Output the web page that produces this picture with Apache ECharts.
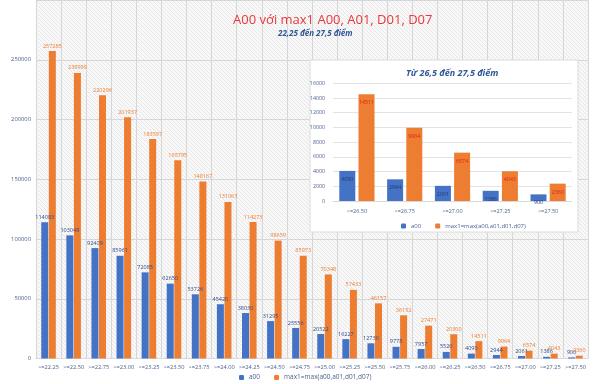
<!DOCTYPE html>
<html><head><meta charset="utf-8">
<script src="https://cdn.jsdelivr.net/npm/echarts@6/dist/echarts.min.js"></script>
<style>html,body{margin:0;padding:0;background:#fff}#c{width:600px;height:384px}</style>
</head><body><div id="c"></div>
<script>
const categories = ['>=22.25','>=22.50','>=22.75','>=23.00','>=23.25','>=23.50','>=23.75','>=24.00','>=24.25','>=24.50','>=24.75','>=25.00','>=25.25','>=25.50','>=25.75','>=26.00','>=26.25','>=26.50','>=26.75','>=27.00','>=27.25','>=27.50'];
const a00 = [114083,103048,92409,85961,72085,62650,53726,45420,38030,31295,25556,20522,16227,12730,9778,7957,5520,4090,2944,2061,1386,900];
const max1 = [257285,238999,220296,201937,183597,165795,148167,131063,114273,98659,85973,70348,57433,46157,36152,27471,20300,14511,9964,6574,4043,2360];
const insetCategories = ['>=26.50','>=26.75','>=27.00','>=27.25','>=27.50'];
const insetA00 = [4090,2944,2061,1386,900];
const insetMax1 = [14511,9964,6574,4043,2360];
const mainTicks = {min:0, max:300000, interval:50000};
const insetTicks = {min:0, max:16000, interval:2000};

const nameA = 'a00', nameB = 'max1=max(a00,a01,d01,d07)';
const blue = '#4472C4', orange = '#ED7D31', axisTxt = '#4a5f8f';
const font = 'Open Sans, Liberation Sans, sans-serif';

// hatch pattern
const pc = document.createElement('canvas'); pc.width = 4; pc.height = 4;
const px = pc.getContext('2d');
px.fillStyle = '#f8f8f8'; px.fillRect(0,0,4,4);
px.strokeStyle = '#e2e2e2'; px.lineWidth = 0.8;
px.beginPath(); px.moveTo(0,0); px.lineTo(4,4); px.moveTo(-2,2); px.lineTo(2,6); px.moveTo(2,-2); px.lineTo(6,2); px.stroke();

const chart = echarts.init(document.getElementById('c'), null, {renderer:'canvas'});
chart.setOption({
  animation:false,
  backgroundColor:'#fff',
  textStyle:{fontFamily:font},
  title:[
    {text:'A00 với max1 A00, A01, D01, D07', left:228, top:9, textStyle:{color:'#e8383d', fontSize:13, fontWeight:'normal', fontFamily:font}},
    {text:'22,25 đến 27,5 điểm', left:273, top:25, textStyle:{color:'#2f5597', fontSize:8, fontWeight:'bold', fontStyle:'italic', fontFamily:font}},
    {text:'Từ 26,5 đến 27,5 điểm', left:401, top:64, z:30, textStyle:{color:'#2f5597', fontSize:9, fontWeight:'bold', fontStyle:'italic', fontFamily:font}}
  ],
  legend:[
    {data:[nameA,nameB], left:234, top:369, itemWidth:5, itemHeight:5, itemGap:14, textStyle:{fontSize:6.5, color:axisTxt, fontFamily:font}},
    {data:[nameA,nameB], left:396, top:218, z:30, itemWidth:5, itemHeight:5, itemGap:14, textStyle:{fontSize:6, color:axisTxt, fontFamily:font}}
  ],
  graphic:[{type:'rect', z:10, shape:{x:310, y:60, width:268, height:172}, style:{fill:'#fff', stroke:'#dcdcdc', lineWidth:1}}],
  grid:[
    {left:36, right:12, top:-10, bottom:25.5, show:true, backgroundColor:{image:pc, repeat:'repeat'}, borderWidth:0},
    {left:333, right:28, top:83.3, bottom:183, z:30}
  ],
  xAxis:[
    {type:'category', gridIndex:0, data:categories, axisTick:{show:false}, axisLine:{lineStyle:{color:'#d9d9d9'}},
     splitLine:{show:true, lineStyle:{color:'#d6d6d6'}}, axisLabel:{fontSize:5.7, color:axisTxt, margin:6, interval:0}},
    {type:'category', gridIndex:1, z:30, data:insetCategories, axisTick:{show:false}, axisLine:{lineStyle:{color:'#d9d9d9'}},
     axisLabel:{fontSize:5.5, color:axisTxt, margin:7, interval:0}}
  ],
  yAxis:[
    {type:'value', gridIndex:0, min:mainTicks.min, max:mainTicks.max, interval:mainTicks.interval, axisLine:{show:false}, axisTick:{show:false},
     splitLine:{lineStyle:{color:'#d6d6d6'}}, axisLabel:{fontSize:5.8, color:axisTxt, margin:5, formatter:v => v >= mainTicks.max ? '' : String(v)}},
    {type:'value', gridIndex:1, z:30, min:insetTicks.min, max:insetTicks.max, interval:insetTicks.interval, axisLine:{show:false}, axisTick:{show:false},
     splitLine:{lineStyle:{color:'#e3e3e3'}}, axisLabel:{fontSize:5.3, color:axisTxt, margin:8, formatter:v => String(v)}}
  ],
  series:[
    {name:nameA, type:'bar', xAxisIndex:0, yAxisIndex:0, data:a00, barWidth:7, barGap:'8%', itemStyle:{color:blue},
     label:{show:true, position:'top', distance:2, fontSize:5.5, color:'#2f4a8a', formatter:p => String(p.value)}},
    {name:nameB, type:'bar', xAxisIndex:0, yAxisIndex:0, data:max1, barWidth:7, barGap:'8%', itemStyle:{color:orange},
     label:{show:true, position:'top', distance:2, fontSize:5.5, color:orange, formatter:p => String(p.value)}},
    {name:nameA, type:'bar', xAxisIndex:1, yAxisIndex:1, z:30, data:insetA00, barWidth:16, barGap:'20%', itemStyle:{color:blue},
     label:{show:true, position:'insideTop', distance:6, fontSize:5.3, color:'#1f3a7a', formatter:p => String(p.value)}},
    {name:nameB, type:'bar', xAxisIndex:1, yAxisIndex:1, z:30, data:insetMax1, barWidth:16, barGap:'20%', itemStyle:{color:orange},
     label:{show:true, position:'insideTop', distance:6, fontSize:5.3, color:'#e0201b', formatter:p => String(p.value)}}
  ]
});
</script></body></html>
